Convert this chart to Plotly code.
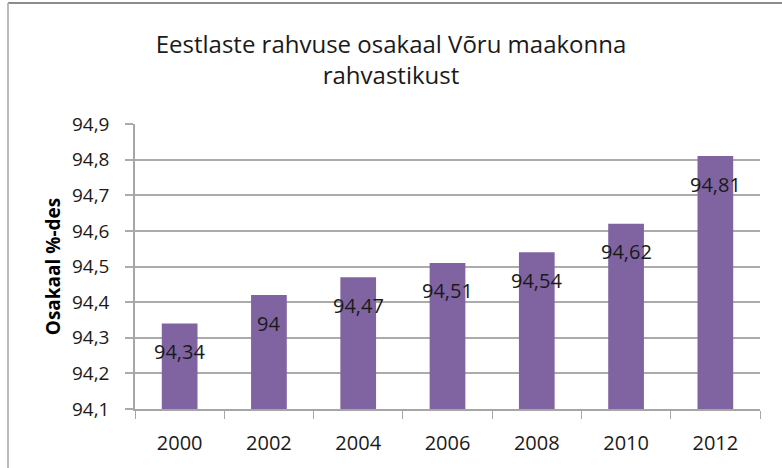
import plotly.graph_objects as go

years = ["2000", "2002", "2004", "2006", "2008", "2010", "2012"]
values = [94.34, 94.42, 94.47, 94.51, 94.54, 94.62, 94.81]
value_labels = ["94,34", "94", "94,47", "94,51", "94,54", "94,62", "94,81"]
y_ticks = [94.1, 94.2, 94.3, 94.4, 94.5, 94.6, 94.7, 94.8, 94.9]
y_tick_labels = ["94,1", "94,2", "94,3", "94,4", "94,5", "94,6", "94,7", "94,8", "94,9"]

FONT = "Open Sans"
fig = go.Figure()
fig.add_trace(go.Bar(
    x=years, y=values,
    marker=dict(color="#8064A2", line=dict(width=0)),
    hoverinfo="skip",
))

for i, (v, lab) in enumerate(zip(values, value_labels)):
    fig.add_annotation(x=i, y=v, text=lab, showarrow=False, yshift=-28,
                       font=dict(family=FONT, size=20, color="#1a1a1a"))

fig.update_layout(
    width=782, height=468,
    margin=dict(l=135, r=22, t=124, b=59, autoexpand=False),
    paper_bgcolor="white", plot_bgcolor="white",
    showlegend=False,
    bargap=0.6,
    title=dict(text="Eestlaste rahvuse osakaal Võru maakonna<br>rahvastikust",
               x=0.5, xref="container", xanchor="center",
               y=1 - 53 / 468, yref="container", yanchor="middle",
               font=dict(family=FONT, size=24, color="#1a1a1a"),
               automargin=False),
    xaxis=dict(type="category", range=[-0.5, 6.5], showgrid=False, showline=True,
               linecolor="#A6A6A6", linewidth=1.5, automargin=False,
               ticks="outside", tickson="boundaries", ticklen=8, tickcolor="#A6A6A6",
               ticklabelstandoff=15,
               tickfont=dict(family=FONT, size=20, color="#1a1a1a")),
    yaxis=dict(range=[94.1, 94.9], tickvals=y_ticks, ticktext=y_tick_labels,
               showgrid=True, gridcolor="#ABABAB", gridwidth=1.5,
               showline=True, linecolor="#A6A6A6", linewidth=1.5, automargin=False,
               ticks="outside", ticklen=8, tickcolor="#ABABAB", tickwidth=1.5,
               ticklabelstandoff=12,
               tickfont=dict(family=FONT, size=19, color="#1a1a1a"),
               title=dict(text="<b>Osakaal %-des</b>", standoff=6,
                          font=dict(family=FONT, size=19, color="#000000")),
               zeroline=False),
)

# outer chart frame (top and left edges visible)
fig.add_shape(type="line", xref="paper", yref="paper", x0=(8 - 135) / 625, x1=(782 - 135) / 625,
              y0=(409 - 3) / 285, y1=(409 - 3) / 285, line=dict(color="#8C8C8C", width=2))
fig.add_shape(type="line", xref="paper", yref="paper", x0=(8 - 135) / 625, x1=(8 - 135) / 625,
              y0=(409 - 3) / 285, y1=(409 - 470) / 285, line=dict(color="#BBBBBB", width=2))

fig.write_html("out.html", config={"displayModeBar": False},
               post_script="document.body.style.margin='0px';")
